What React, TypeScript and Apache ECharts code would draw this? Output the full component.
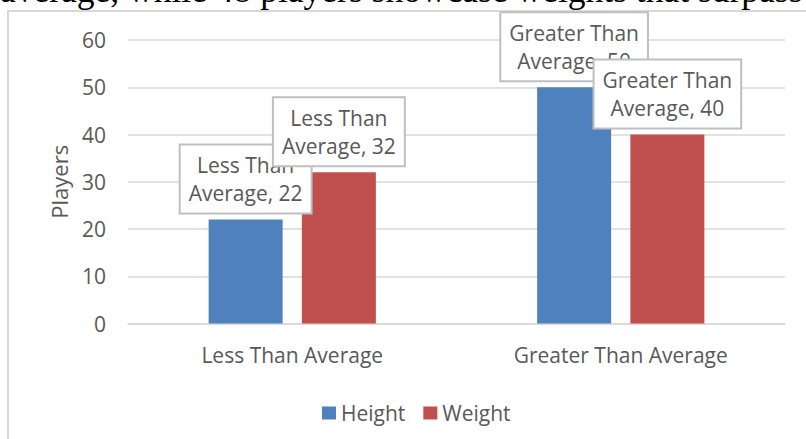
import React, { useEffect, useRef } from "react";
import * as echarts from "echarts";

// Players grouped by how they compare with the average
const categories = ["Less Than Average", "Greater Than Average"];
const heightPlayers = [22, 50];
const weightPlayers = [32, 40];
const yTicks = { min: 0, max: 60, interval: 10 };
const captionText = "average, while 48 players showcase weights that surpass";

const TEXT_COLOR = "#595959";
const GRID_COLOR = "#d9d9d9";
const FONT = "'Open Sans', 'Noto Sans', sans-serif";

// "Less Than Average, 22" -> two lines, broken before "Average"
const labelFormatter = (p: any) =>
  `${String(p.name).replace(" Average", "\nAverage")}, ${p.value}`;

const barLabel = {
  show: true,
  position: "top" as const,
  distance: 7,
  formatter: labelFormatter,
  color: TEXT_COLOR,
  fontFamily: FONT,
  fontSize: 21,
  lineHeight: 28.5,
  backgroundColor: "#ffffff",
  borderColor: "#bfbfbf",
  borderWidth: 2,
  padding: [5, 8, 5, 8],
};

export default function App() {
  const ref = useRef<HTMLDivElement>(null);

  useEffect(() => {
    if (!ref.current) return;
    const chart = echarts.init(ref.current, undefined, { renderer: "svg" });
    chart.setOption({
      animation: false,
      backgroundColor: "#ffffff",
      textStyle: { fontFamily: FONT },
      graphic: [
        {
          type: "text",
          left: 0,
          y: -10,
          z: -10,
          style: {
            text: captionText,
            fontFamily: "'Liberation Serif', 'Times New Roman', serif",
            fontSize: 35.5,
            fill: "#000000",
            verticalAlign: "middle",
          },
        },
        {
          type: "rect",
          z: -9,
          shape: { x: 8, y: 11, width: 840, height: 460 },
          style: { fill: "#ffffff", stroke: GRID_COLOR, lineWidth: 2 },
        },
      ],
      grid: { left: 128, right: 21, top: 40, bottom: 115.5, containLabel: false },
      legend: {
        data: ["Height", "Weight"],
        left: 317,
        top: 397,
        icon: "rect",
        itemWidth: 14,
        itemHeight: 13,
        itemGap: 18,
        textStyle: { color: TEXT_COLOR, fontSize: 21, fontFamily: FONT, lineHeight: 22 },
      },
      xAxis: {
        type: "category",
        data: categories,
        axisTick: { show: false },
        axisLine: { show: true, lineStyle: { color: GRID_COLOR, width: 1.5 } },
        axisLabel: {
          color: TEXT_COLOR,
          fontSize: 21,
          fontFamily: FONT,
          lineHeight: 28,
          margin: 17,
        },
      },
      yAxis: {
        type: "value",
        min: yTicks.min,
        max: yTicks.max,
        interval: yTicks.interval,
        name: "Players",
        nameLocation: "middle",
        nameGap: 58,
        nameRotate: 90,
        nameTextStyle: { color: TEXT_COLOR, fontSize: 22, fontFamily: FONT },
        axisLine: { show: false },
        axisTick: { show: false },
        axisLabel: { color: TEXT_COLOR, fontSize: 21, fontFamily: FONT, margin: 22 },
        splitLine: { lineStyle: { color: GRID_COLOR, width: 1.5 } },
      },
      series: [
        {
          name: "Height",
          type: "bar",
          data: heightPlayers,
          barWidth: 74,
          barGap: "26%",
          itemStyle: { color: "#4f81bd" },
          label: barLabel,
        },
        {
          name: "Weight",
          type: "bar",
          data: weightPlayers,
          barWidth: 74,
          barGap: "26%",
          itemStyle: { color: "#c0504d" },
          label: barLabel,
        },
      ],
    });
    return () => chart.dispose();
  }, []);

  return (
    <div
      ref={ref}
      style={{ position: "absolute", left: 0, top: 0, width: 806, height: 439 }}
    />
  );
}
